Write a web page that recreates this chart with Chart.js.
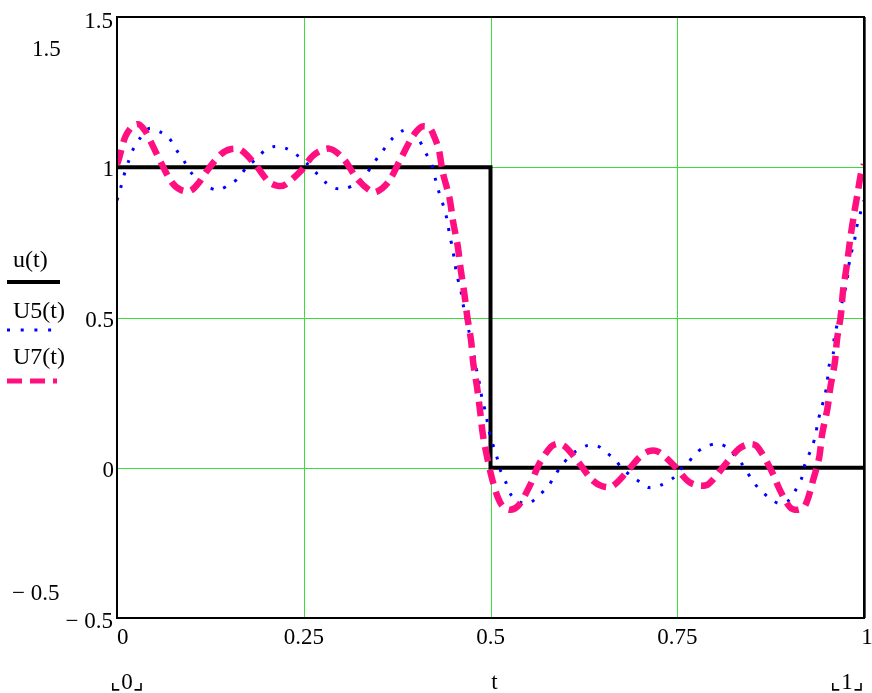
<!DOCTYPE html>
<html>
<head>
<meta charset="utf-8">
<script src="https://cdn.jsdelivr.net/npm/chart.js@4.4.1/dist/chart.umd.min.js"></script>
<style>
  html, body { margin: 0; padding: 0; background: #fff; }
  #wrap { width: 872px; height: 693px; }
</style>
</head>
<body>
<div id="wrap"><canvas id="plot" width="872" height="693"></canvas></div>
<script>
// u(t): the square wave
const tU = [0, 0.5, 0.5, 1];
const vU = [1, 1, 0, 0];

// U5(t)
const tU5 = [0, 0.004, 0.009, 0.015, 0.022, 0.030, 0.043, 0.059, 0.070, 0.080, 0.091, 0.099, 0.109, 0.120, 0.135,
  0.151, 0.162, 0.174, 0.187, 0.198, 0.211, 0.227, 0.240, 0.253, 0.266, 0.279, 0.292, 0.306, 0.319, 0.329,
  0.339, 0.350, 0.358, 0.368, 0.382, 0.394, 0.405, 0.413, 0.421, 0.426, 0.431, 0.437, 0.442, 0.445, 0.449,
  0.452, 0.455, 0.460, 0.463, 0.467, 0.471, 0.476, 0.479, 0.482, 0.486, 0.489, 0.494, 0.497, 0.502, 0.508,
  0.513, 0.521, 0.528, 0.540, 0.552, 0.565, 0.578, 0.586, 0.597, 0.610, 0.628, 0.643, 0.657, 0.667, 0.675,
  0.687, 0.699, 0.712, 0.727, 0.746, 0.754, 0.764, 0.772, 0.785, 0.804, 0.817, 0.827, 0.838, 0.848, 0.858,
  0.872, 0.885, 0.898, 0.909, 0.917, 0.921, 0.929, 0.935, 0.938, 0.943, 0.948, 0.951, 0.953, 0.959, 0.960,
  0.964, 0.968, 0.972, 0.977, 0.979, 0.982, 0.987, 0.990, 0.995, 1];
const vU5 = [0.89, 0.923, 0.97, 1.017, 1.062, 1.094, 1.129, 1.116, 1.096, 1.056, 1.016, 0.983, 0.957, 0.937, 0.924,
  0.943, 0.963, 1.001, 1.029, 1.056, 1.069, 1.062, 1.042, 1.016, 0.983, 0.95, 0.93, 0.93, 0.943, 0.963,
  0.996, 1.036, 1.062, 1.094, 1.121, 1.125, 1.088, 1.049, 1.01, 0.963, 0.917, 0.871, 0.824, 0.779, 0.732,
  0.687, 0.64, 0.594, 0.548, 0.50, 0.456, 0.40, 0.36, 0.317, 0.271, 0.226, 0.179, 0.133, 0.087, 0.041,
  -0.007, -0.051, -0.092, -0.115, -0.118, -0.092, -0.059, -0.026, 0.013, 0.047, 0.073, 0.073, 0.047, 0.027, 0.001,
  -0.025, -0.046, -0.066, -0.059, -0.032, -0.006, 0.014, 0.041, 0.067, 0.08, 0.067, 0.041, 0.008, -0.032, -0.066,
  -0.098, -0.118, -0.111, -0.072, -0.032, 0.012, 0.06, 0.106, 0.151, 0.198, 0.244, 0.29, 0.337, 0.383, 0.429,
  0.476, 0.52, 0.567, 0.614, 0.66, 0.706, 0.752, 0.798, 0.846, 0.89];

// U7(t)
const tU7 = [0, 0.002, 0.011, 0.020, 0.029, 0.038, 0.046, 0.060, 0.073, 0.085, 0.098, 0.110, 0.120, 0.139, 0.152,
  0.166, 0.186, 0.203, 0.215, 0.225, 0.247, 0.263, 0.284, 0.303, 0.322, 0.343, 0.355, 0.365, 0.380, 0.396,
  0.408, 0.418, 0.425, 0.431, 0.436, 0.445, 0.450, 0.456, 0.460, 0.465, 0.469, 0.474, 0.477, 0.482, 0.486,
  0.490, 0.496, 0.503, 0.510, 0.517, 0.527, 0.538, 0.553, 0.565, 0.581, 0.591, 0.601, 0.618, 0.635, 0.648,
  0.662, 0.680, 0.699, 0.712, 0.725, 0.745, 0.765, 0.780, 0.792, 0.813, 0.832, 0.845, 0.856, 0.874, 0.888,
  0.901, 0.911, 0.921, 0.932, 0.940, 0.944, 0.951, 0.955, 0.961, 0.964, 0.969, 0.972, 0.977, 0.981, 0.986,
  0.991, 0.996, 1];
const vU7 = [1.01, 1.023, 1.101, 1.135, 1.143, 1.12, 1.081, 1.01, 0.951, 0.925, 0.921, 0.95, 0.987, 1.043, 1.06,
  1.057, 1.006, 0.952, 0.938, 0.942, 0.99, 1.04, 1.062, 1.029, 0.96, 0.917, 0.93, 0.957, 1.029, 1.103,
  1.135, 1.132, 1.10, 1.057, 0.984, 0.899, 0.818, 0.74, 0.662, 0.579, 0.501, 0.423, 0.346, 0.268, 0.19,
  0.107, 0.029, -0.045, -0.10, -0.13, -0.14, -0.124, -0.058, 0.012, 0.07, 0.08, 0.068, 0.018, -0.038, -0.06,
  -0.063, -0.021, 0.034, 0.055, 0.053, 0.009, -0.046, -0.06, -0.054, 0.007, 0.062, 0.078, 0.073, 0.001, -0.077,
  -0.132, -0.14, -0.127, -0.04, 0.034, 0.112, 0.196, 0.268, 0.351, 0.429, 0.507, 0.59, 0.673, 0.751, 0.834,
  0.907, 0.979, 1.01];

// tick labels
const xTickVals = [0, 0.25, 0.5, 0.75, 1];
const xTickLabels = ["0", "0.25", "0.5", "0.75", "1"];
const yTickVals = [1, 0.5, 0];
const yTickLabels = ["1", "0.5", "0"];
// grid lines inside the frame
const xGridVals = [0.25, 0.5, 0.75];
const yGridVals = [0, 0.5, 1];

const seriesNames = ["u(t)", "U5(t)", "U7(t)"];
const seriesColors = ["#000000", "#0000ff", "#ff0f80"];

function toPoints(ts, vs) {
  return ts.map((t, i) => ({ x: t, y: vs[i] }));
}

const FONT = "23px 'Liberation Serif', 'Times New Roman', serif";
const GRID = "#3ddc3d";

// Green grid drawn from the scales, under the curves
const greenGrid = {
  id: "greenGrid",
  beforeDatasetsDraw(chart) {
    let ctx = chart.ctx;
    let a = chart.chartArea;
    let xs = chart.scales.x;
    let ys = chart.scales.y;
    ctx.save();
    ctx.strokeStyle = GRID;
    ctx.lineWidth = 1;
    ctx.beginPath();
    xGridVals.forEach((v) => {
      let px = Math.round(xs.getPixelForValue(v)) + 0.5;
      ctx.moveTo(px, a.top);
      ctx.lineTo(px, a.bottom);
    });
    yGridVals.forEach((v) => {
      let py = Math.round(ys.getPixelForValue(v)) + 0.5;
      ctx.moveTo(a.left, py);
      ctx.lineTo(a.right, py);
    });
    ctx.stroke();
    ctx.restore();
  }
};

// Frame, tick labels and the Mathcad-like legend
const decor = {
  id: "decor",
  afterDraw(chart) {
    let ctx = chart.ctx;
    let a = chart.chartArea;
    let xs = chart.scales.x;
    let ys = chart.scales.y;

    ctx.save();
    // ### FRAME ###
    ctx.strokeStyle = "#000";
    ctx.lineWidth = 2;
    ctx.strokeRect(a.left, a.top, a.right - a.left, a.bottom - a.top);
    ctx.strokeStyle = "#555";
    ctx.lineWidth = 1;
    ctx.beginPath();
    ctx.moveTo(a.right + 1.5, a.top);
    ctx.lineTo(a.right + 1.5, a.bottom);
    ctx.stroke();

    ctx.fillStyle = "#000";
    ctx.font = FONT;

    // ### X TICK LABELS ###
    ctx.textBaseline = "middle";
    xTickVals.forEach((v, i) => {
      let px = xs.getPixelForValue(v);
      if (i == 0) {
        ctx.textAlign = "left";
      } else {
        ctx.textAlign = "center";
        if (i == xTickVals.length - 1) px = px + 3;
      }
      ctx.fillText(xTickLabels[i], px, a.bottom + 20);
    });

    // ### Y TICK LABELS ###
    ctx.textAlign = "right";
    yTickVals.forEach((v, i) => {
      ctx.fillText(yTickLabels[i], a.left - 3, ys.getPixelForValue(v) + 3);
    });
    // axis limits at the corners
    ctx.fillText("1.5", a.left - 4, ys.getPixelForValue(ys.max) + 5);
    ctx.fillText("\u2212 0.5", a.left - 4, ys.getPixelForValue(ys.min) + 4);
    // extra limit entries on the left
    ctx.textAlign = "left";
    ctx.fillText("1.5", 32, 50);
    ctx.fillText("\u2212 0.5", 12, 594);

    // ### X AXIS NAME AND RANGE ###
    ctx.textAlign = "center";
    ctx.fillText("t", xs.getPixelForValue(0.5) + 4, 683);
    ctx.fillText("\u231e0\u231f", xs.getPixelForValue(0) + 10, 683);
    ctx.fillText("\u231e1\u231f", xs.getPixelForValue(1) - 17, 683);

    // ### LEGEND ###
    ctx.textAlign = "left";
    ctx.font = "24px 'Liberation Serif', 'Times New Roman', serif";
    ctx.fillText(seriesNames[0], 13, 261);
    ctx.fillText(seriesNames[1], 13, 312);
    ctx.fillText(seriesNames[2], 13, 358);

    ctx.lineCap = "butt";
    ctx.strokeStyle = seriesColors[0];
    ctx.lineWidth = 4;
    ctx.setLineDash([]);
    ctx.beginPath();
    ctx.moveTo(7, 282);
    ctx.lineTo(60, 282);
    ctx.stroke();

    ctx.strokeStyle = seriesColors[1];
    ctx.lineWidth = 3;
    ctx.setLineDash([3, 10.7]);
    ctx.beginPath();
    ctx.moveTo(7, 330);
    ctx.lineTo(52, 330);
    ctx.stroke();

    ctx.strokeStyle = seriesColors[2];
    ctx.lineWidth = 5;
    ctx.setLineDash([15, 8]);
    ctx.beginPath();
    ctx.moveTo(7, 381);
    ctx.lineTo(57, 381);
    ctx.stroke();
    ctx.restore();
  }
};

let config = {
  type: "line",
  data: {
    datasets: [
      {
        label: seriesNames[0],
        data: toPoints(tU, vU),
        borderColor: seriesColors[0],
        borderWidth: 4,
        pointRadius: 0,
        tension: 0,
        order: 3
      },
      {
        label: seriesNames[1],
        data: toPoints(tU5, vU5),
        borderColor: seriesColors[1],
        borderWidth: 3,
        borderDash: [3, 10],
        pointRadius: 0,
        tension: 0.3,
        order: 2
      },
      {
        label: seriesNames[2],
        data: toPoints(tU7, vU7),
        borderColor: seriesColors[2],
        borderWidth: 6.5,
        borderDash: [15, 8],
        pointRadius: 0,
        tension: 0.3,
        order: 1
      }
    ]
  },
  options: {
    responsive: false,
    animation: false,
    devicePixelRatio: 1,
    layout: { padding: { left: 117, top: 17, right: 8, bottom: 75 } },
    plugins: { legend: { display: false }, tooltip: { enabled: false } },
    scales: {
      x: {
        type: "linear",
        min: 0,
        max: 1,
        ticks: { display: false, stepSize: 0.25 },
        grid: { display: false, drawTicks: false },
        border: { display: false }
      },
      y: {
        type: "linear",
        min: -0.5,
        max: 1.5,
        ticks: { display: false, stepSize: 0.5 },
        grid: { display: false, drawTicks: false },
        border: { display: false }
      }
    }
  },
  plugins: [greenGrid, decor]
};

new Chart(document.querySelector("#plot"), config);
</script>
</body>
</html>
